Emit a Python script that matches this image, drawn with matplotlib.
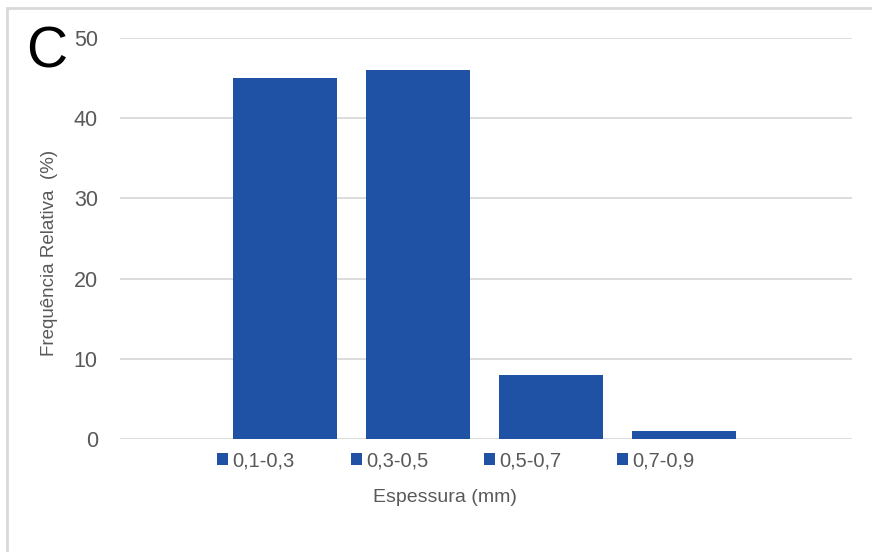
import matplotlib
matplotlib.use('Agg')
import matplotlib.pyplot as plt
from matplotlib.patches import Rectangle

# Distribuição de espessura (frequência relativa, %)
classes = ['0,1-0,3', '0,3-0,5', '0,5-0,7', '0,7-0,9']
freq = [45, 46, 8, 1]
yticks = [0, 10, 20, 30, 40, 50]

BLUE = '#1F52A4'
GRID = '#D9D9D9'
TXT = '#595959'

plt.rcParams['font.family'] = ['Liberation Sans', 'DejaVu Sans']

fig = plt.figure(figsize=(8.72, 5.52), dpi=100)
ax = fig.add_axes([120/872, 1 - 439/552, 732/872, 401/552])

xs = range(len(classes))
bars = ax.bar(xs, freq, width=0.78, color=BLUE, zorder=3)

ax.set_xlim(-1.24, 4.26)
ax.set_ylim(0, 50)
ax.set_yticks(yticks)
ax.set_xticks([])
ax.yaxis.grid(True, color=GRID, linewidth=1.3, zorder=0)
for s in ax.spines.values():
    s.set_visible(False)
ax.tick_params(axis='y', length=0, pad=16, labelsize=15.5, labelcolor=TXT)

# legenda: um quadrado por classe, abaixo do eixo
ax.legend(bars, classes, loc='center', bbox_to_anchor=(456/872, 1 - 461/552),
          bbox_transform=fig.transFigure, ncol=4, frameon=False,
          fontsize=14.5, labelcolor=TXT, handlelength=0.55, handleheight=0.55,
          handletextpad=0.2, columnspacing=2.78)

fig.text(445/872, 1 - 498/552, 'Espessura (mm)', ha='center', va='center',
         fontsize=14, color=TXT)
fig.text(50/872, 1 - 253/552, 'Frequência Relativa  (%)', ha='center', va='center',
         rotation=90, fontsize=13.5, color=TXT)
fig.text(47/872, 1 - 52/552, 'C', ha='center', va='center', fontsize=41, color='black')

# moldura do gráfico (apenas topo e esquerda visíveis)
fig.patches.append(Rectangle((7/872, -0.05), 1.0, 1 - 8/552 + 0.05,
                             transform=fig.transFigure, fill=False,
                             edgecolor='#D9D9D9', linewidth=2))

fig.savefig('out.png', dpi=100, facecolor='white')
